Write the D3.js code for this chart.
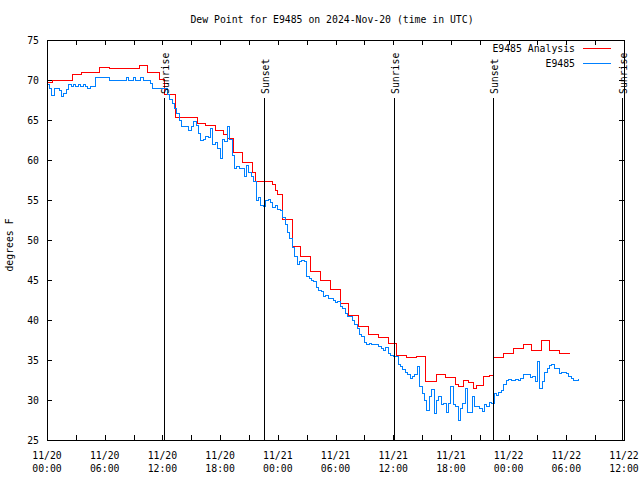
<!DOCTYPE html>
<html><head><meta charset="utf-8">
<script src="https://cdn.jsdelivr.net/npm/d3@7"></script>
<style>
body{margin:0;background:#fff}
text{font-family:"DejaVu Sans Mono",monospace;font-size:9.8px;fill:#000}
</style>
</head><body><svg id="c" width="640" height="480"></svg>
<script>
const chartTitle = "Dew Point for E9485 on 2024-Nov-20 (time in UTC)";
const yAxisLabel = "degrees F";
const seriesNames = ["E9485 Analysis", "E9485"];
const seriesColors = ["#ff0000", "#0080ff"];
const yTickValues = [25, 30, 35, 40, 45, 50, 55, 60, 65, 70, 75];
const startTimeUTC = Date.UTC(2024, 10, 20, 0, 0);
const endTimeUTC = Date.UTC(2024, 10, 22, 12, 0);

// Analysis series: hours after start where the value changes, and the value
const analysisHours = [0,0.52,2.6,3.54,5.51,6.55,7.49,9.67,10.5,11.65,12.27,13.41,15.6,16.53,17.47,18.4,18.72,19.44,20.38,21.42,21.63,23.4,23.71,23.92,24.44,25.48,26.41,27.35,28.39,29.43,30.47,31.4,32.34,33.38,34.42,35.46,36.39,37.43,38.47,39.41,40.55,41.39,42.43,42.74,43.36,43.88,44.4,44.71,45.44,46.06,46.38,47.42,48.46,49.5,50.43,51.37,52.3,53.34,54.38];
const analysisValues = [69.7,70.0,70.7,71.0,71.6,71.4,71.5,71.8,70.9,70.1,68.2,65.3,64.6,64.3,63.75,63.25,62.7,61.0,59.7,58.5,57.3,56.9,56.25,55.75,52.6,49.25,48.0,46.1,45.0,43.8,42.1,40.6,39.25,38.2,37.8,37.1,35.6,35.3,35.5,32.3,33.2,32.8,32.0,31.7,32.5,32.2,31.5,31.8,32.9,33.1,35.3,35.8,36.5,36.9,36.25,37.4,36.25,35.8,35.8];

// Observations: one value every 15 minutes from the start
const obsIntervalHours = 0.25;
const obsValues = [
69.4,68.9,68.1,68.95,68.9,68.75,68.0,68.3,68.8,69.4,
69.2,69.4,69.2,69.4,69.2,69.4,69.2,69.0,69.2,69.2,
70.3,70.3,70.3,70.3,70.3,70.3,70.0,70.0,70.0,70.0,
70.0,70.0,70.0,70.3,70.0,70.0,70.3,70.0,70.0,70.3,
70.0,70.0,70.0,69.6,69.0,69.0,69.0,69.0,69.0,68.9,
68.2,67.6,67.1,66.5,65.8,65.0,64.2,64.2,64.2,63.75,
64.2,64.8,64.3,63.3,62.5,62.6,62.9,62.8,63.9,61.9,
62.2,61.4,60.2,62.6,62.3,64.2,62.6,60.6,58.9,59.2,
58.9,58.9,58.0,59.3,58.4,58.0,57.3,55.0,55.3,54.3,
54.2,54.9,55.1,54.7,54.1,54.3,53.8,53.7,52.8,51.9,
50.9,50.2,49.1,48.0,47.0,47.3,47.5,47.3,45.5,45.2,
44.9,44.8,44.1,43.75,43.6,42.9,43.1,42.7,42.7,42.5,
42.2,42.3,41.7,41.4,40.8,40.5,40.4,39.9,39.4,38.9,
38.2,37.9,37.2,36.9,37.1,36.9,37.0,36.9,36.7,36.4,
36.25,36.6,35.8,35.6,35.5,35.4,34.5,34.2,33.8,33.5,
33.2,32.7,32.9,33.2,34.2,31.7,30.8,29.9,28.75,30.4,
31.3,28.3,30.0,30.4,29.5,29.6,28.5,29.6,31.7,29.5,
29.2,27.5,29.0,29.6,31.5,28.4,28.5,30.4,29.2,29.2,
29.0,28.6,29.5,29.2,29.7,29.6,30.8,30.6,31.0,31.2,
32.0,32.5,32.6,32.5,32.5,32.6,32.5,32.7,33.2,33.2,
33.2,32.8,32.9,32.3,34.8,31.5,32.3,33.5,34.0,34.3,
34.5,34.0,34.0,33.3,33.5,33.5,33.3,33.0,32.7,32.4,
32.5,32.6];

const sunEventNames = ["Sunrise", "Sunset", "Sunrise", "Sunset", "Sunrise"];
const sunEventHours = [12.17, 22.56, 36.08, 46.38, 59.75];

const H = 3600 * 1000;
const toDate = h => new Date(startTimeUTC + h * H);

const svg = d3.select("#c");
const M = {left: 47, right: 624, top: 40, bottom: 440};

const x = d3.scaleUtc().domain([new Date(startTimeUTC), new Date(endTimeUTC)]).range([M.left, M.right]);
const y = d3.scaleLinear().domain([25, 75]).range([M.bottom, M.top]);

// title
svg.append("text").attr("x", 332).attr("y", 23).attr("text-anchor", "middle").text(chartTitle);

// y label
svg.append("text").attr("transform", "translate(13,245) rotate(-90)").attr("text-anchor", "middle").text(yAxisLabel);

// axes
const xTicks = d3.utcHour.every(3).range(new Date(startTimeUTC), new Date(endTimeUTC + 1));
const fmtDay = d3.utcFormat("%m/%d"), fmtHour = d3.utcFormat("%H:%M");

const gx = svg.append("g").attr("transform", `translate(0,${M.bottom})`)
  .call(d3.axisBottom(x).tickValues(xTicks).tickSize(-5).tickSizeOuter(0).tickFormat(""));
gx.select(".domain").remove();
gx.selectAll("line").attr("stroke", "#000").attr("shape-rendering", "crispEdges");

const gxt = svg.append("g").attr("transform", `translate(0,${M.top})`)
  .call(d3.axisTop(x).tickValues(xTicks).tickSize(-5).tickSizeOuter(0).tickFormat(""));
gxt.select(".domain").remove();
gxt.selectAll("line").attr("stroke", "#000").attr("shape-rendering", "crispEdges");

// x tick labels every 6 hours
const labelTicks = xTicks.filter(d => d.getUTCHours() % 6 === 0);
const lbl = svg.append("g");
labelTicks.forEach(d => {
  const t = lbl.append("text").attr("text-anchor", "middle");
  t.append("tspan").attr("x", x(d)).attr("y", 459).text(fmtDay(d));
  t.append("tspan").attr("x", x(d)).attr("y", 472).text(fmtHour(d));
});

const gy = svg.append("g").attr("transform", `translate(${M.left},0)`)
  .call(d3.axisLeft(y).tickValues(yTickValues).tickSize(-5).tickSizeOuter(0).tickPadding(8).tickFormat(d3.format("d")));
gy.select(".domain").remove();
gy.selectAll("line").attr("stroke", "#000").attr("shape-rendering", "crispEdges");
gy.selectAll("text").style("font-family", "DejaVu Sans Mono").style("font-size", "9.8px").attr("fill", "#000");

const gyr = svg.append("g").attr("transform", `translate(${M.right},0)`)
  .call(d3.axisRight(y).tickValues(yTickValues).tickSize(-5).tickSizeOuter(0).tickFormat(""));
gyr.select(".domain").remove();
gyr.selectAll("line").attr("stroke", "#000").attr("shape-rendering", "crispEdges");

// data
const analysis = analysisHours.map((h, i) => ({t: toDate(h), v: analysisValues[i]}));
const obs = obsValues.map((v, i) => ({t: toDate(i * obsIntervalHours), v}));

const line = d3.line().x(d => x(d.t)).y(d => y(d.v)).curve(d3.curveStepAfter);

svg.append("path").datum(analysis).attr("d", line).attr("fill", "none")
  .attr("stroke", seriesColors[0]).attr("stroke-width", 1).attr("shape-rendering", "crispEdges");
svg.append("path").datum(obs).attr("d", line).attr("fill", "none")
  .attr("stroke", seriesColors[1]).attr("stroke-width", 1).attr("shape-rendering", "crispEdges");

// sun events
sunEventHours.forEach((h, i) => {
  const xx = Math.round(x(toDate(h))) + 0.5;
  svg.append("line").attr("x1", xx).attr("x2", xx).attr("y1", 98).attr("y2", M.bottom)
    .attr("stroke", "#000").attr("stroke-width", 1).attr("shape-rendering", "crispEdges");
  svg.append("text").attr("transform", `translate(${xx + 4},94) rotate(-90)`)
    .attr("text-anchor", "start").text(sunEventNames[i]);
});

// frame
svg.append("rect").attr("x", M.left + 0.5).attr("y", M.top + 0.5)
  .attr("width", M.right - M.left).attr("height", M.bottom - M.top)
  .attr("fill", "none").attr("stroke", "#000").attr("shape-rendering", "crispEdges");

// legend
seriesNames.forEach((n, i) => {
  const ly = 48 + i * 15;
  svg.append("text").attr("x", 575).attr("y", ly + 4).attr("text-anchor", "end").text(n);
  svg.append("line").attr("x1", 583).attr("x2", 611).attr("y1", ly + 0.5).attr("y2", ly + 0.5)
    .attr("stroke", seriesColors[i]).attr("shape-rendering", "crispEdges");
});
</script>
</body></html>
